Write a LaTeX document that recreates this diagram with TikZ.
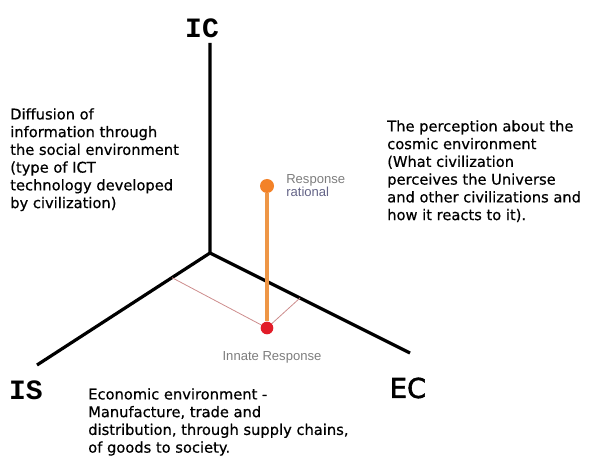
\documentclass[tikz,border=0pt]{standalone}
\usepackage{fontspec}
\setmainfont{DejaVu Sans}
\newfontfamily\envfont{DejaVu Sans}[FakeBold=0.6]
\newfontfamily\ecfont{DejaVu Sans}[FakeBold=2]
\newfontfamily\axismono{Liberation Mono}
\newfontfamily\smallsans{Liberation Sans}
\usetikzlibrary{calc}
\definecolor{dotorange}{RGB}{243,130,40}
\definecolor{lineorange}{RGB}{238,150,70}
\definecolor{dotred}{RGB}{226,28,40}
\definecolor{projred}{RGB}{205,140,140}
\definecolor{labelgray}{RGB}{125,125,125}
\definecolor{labelblue}{RGB}{100,100,135}

\begin{document}
\begin{tikzpicture}[x=0.75pt,y=-0.75pt,
  axis/.style={line width=2.4pt,line join=miter},
  axisname/.style={font=\axismono\bfseries\fontsize{21}{21}\selectfont,inner sep=0pt},
  envtext/.style={anchor=north west,align=left,inner sep=0pt,font=\envfont\fontsize{11}{13.3}\selectfont},
  smalllabel/.style={inner sep=0pt,align=left,font=\smallsans\fontsize{9.8}{10}\selectfont}]
  \useasboundingbox (0,0) rectangle (599,466);
  % the three axes
  \coordinate (O) at (210,253);
  \coordinate (ICend) at (210,43);
  \coordinate (ISend) at (37,365);
  \coordinate (ECend) at (410,353);
  \draw[axis] (ICend) -- (O) -- (ISend);
  \draw[axis] (O) -- (ECend);
  \node[axisname] (IC) at (202,28) {IC};
  \node[axisname] (IS) at (26,390) {IS};
  \node[inner sep=0pt,font=\ecfont\fontsize{20.5}{21}\selectfont] (EC) at (408,388) {EC};
  % responses
  \coordinate (onIS) at ($(O)!0.22!(ISend)$);
  \coordinate (onEC) at ($(O)!0.45!(ECend)$);
  \draw[projred,line width=0.6pt] (onIS) -- (267,328) -- (onEC);
  \node[circle,fill=dotred,inner sep=0pt,minimum size=9.5pt] (innate) at (267,328) {};
  \node[circle,fill=dotorange,inner sep=0pt,minimum size=10.5pt] (rational) at (267,186) {};
  \draw[lineorange,line width=2.4pt] (rational) -- (innate);
  \node[smalllabel,anchor=north west,text=labelgray] (ratlabel) at (286,174)
    {Response\\\color{labelblue}rational};
  \node[smalllabel,text=labelgray] (innatelabel) at (272,357) {Innate Response};
  % environments
  \node[envtext] (social) at (10,108) {Diffusion of\\information through\\the social environment\\(type of ICT\\technology developed\\by civilization)};
  \node[envtext] (cosmic) at (387,120) {The perception about the\\cosmic environment\\(What civilization\\perceives the Universe\\and other civilizations and\\how it reacts to it).};
  \node[envtext] (economic) at (88,388) {Economic environment -\\Manufacture, trade and\\distribution, through supply chains,\\of goods to society.};
\end{tikzpicture}
\end{document}
